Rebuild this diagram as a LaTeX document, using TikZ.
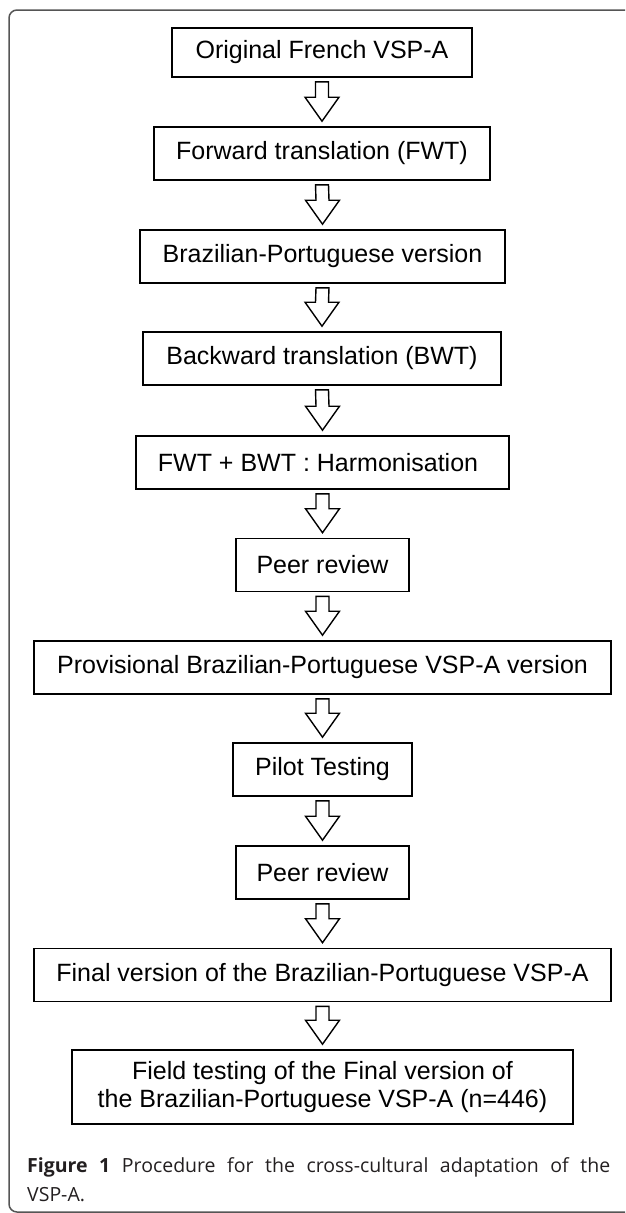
\documentclass[tikz,border=0pt]{standalone}
\usepackage{fontspec}
\setmainfont{Liberation Sans}
\newfontfamily\capfont{Open Sans}
\usetikzlibrary{calc}
\definecolor{framegray}{RGB}{85,85,85}
\definecolor{captext}{RGB}{35,31,32}
\tikzset{
  stepbox/.style={draw=black, line width=1.6pt, fill=white, inner sep=0pt,
    minimum height=53pt, align=center, font=\fontsize{25}{28}\selectfont},
  blk/.style={draw=black, line width=1.4pt, fill=white, line join=miter},
}
\newcommand\blockarr[2]{%
  \draw[blk] ($(#1.south)+(6.5,4)$) -- ($(#2.north)+(6.5,-29)$) -- ($(#2.north)+(17,-29)$)
    -- ($(#2.north)+(0,-5)$) -- ($(#2.north)+(-17,-29)$) -- ($(#2.north)+(-6.5,-29)$)
    -- ($(#1.south)+(-6.5,4)$) -- cycle;}
\begin{document}
\begin{tikzpicture}[x=1pt, y=-1pt]
\useasboundingbox (0,0) rectangle (625,1213);
\clip (0,0) rectangle (625,1213);
\draw[framegray, line width=1.5pt, rounded corners=8pt] (660,10) -- (9,10) -- (9,1212) -- (660,1212);

\node[stepbox, minimum width=300pt, minimum height=49pt] (b1) at (322,52.5) {Original French VSP-A};
\node[stepbox, minimum width=336pt] (b2) at (322,153.5) {Forward translation (FWT)};
\node[stepbox, minimum width=365pt] (b3) at (322.5,256.5) {Brazilian-Portuguese version};
\node[stepbox, minimum width=358pt] (b4) at (322,358.5) {Backward translation (BWT)};
\node[stepbox, minimum width=373pt] (b5) at (322.5,462.5) {FWT + BWT : Harmonisation\hspace*{9pt}};
\node[stepbox, minimum width=173pt] (b6) at (322.5,565) {Peer review};
\node[stepbox, minimum width=577pt] (b7) at (322.5,667.5) {Provisional Brazilian-Portuguese VSP-A version};
\node[stepbox, minimum width=179pt] (b8) at (322.5,769.5) {Pilot Testing};
\node[stepbox, minimum width=173pt] (b9) at (322.5,872.5) {Peer review};
\node[stepbox, minimum width=577pt] (b10) at (322.5,975) {Final version of the Brazilian-Portuguese VSP-A};
\node[stepbox, minimum width=501pt, minimum height=74pt] (b11) at (322.5,1087) {Field testing of the Final version of\\the Brazilian-Portuguese VSP-A (n=446)};

\blockarr{b1}{b2}
\blockarr{b2}{b3}
\blockarr{b3}{b4}
\blockarr{b4}{b5}
\blockarr{b5}{b6}
\blockarr{b6}{b7}
\blockarr{b7}{b8}
\blockarr{b8}{b9}
\blockarr{b9}{b10}
\blockarr{b10}{b11}

\node[anchor=north west, inner sep=0pt, text width=583pt, align=justify, text=captext,
  font=\capfont\fontsize{19.5}{29}\selectfont] (cap) at (27,1157)
  {\hyphenpenalty=10000 \textbf{Figure 1} Procedure for the cross-cultural adaptation of the\linebreak VSP-A.};
\end{tikzpicture}
\end{document}
